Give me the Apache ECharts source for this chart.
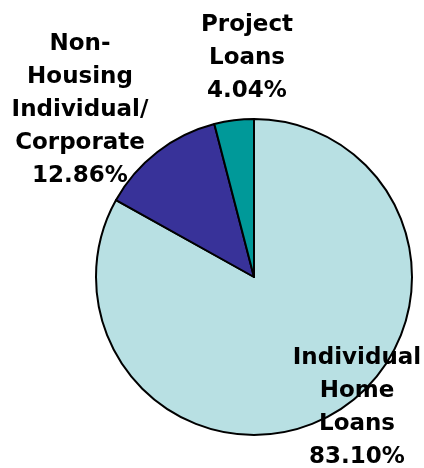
<!DOCTYPE html>
<html>
<head>
<meta charset="utf-8">
<script src="https://cdn.jsdelivr.net/npm/echarts@6/dist/echarts.min.js"></script>
<style>
html,body{margin:0;padding:0;background:#fff;}
#chart{width:424px;height:468px;}
</style>
</head>
<body>
<div id="chart"></div>
<script>
var categories = ["Individual\nHome\nLoans", "Non-\nHousing\nIndividual/\nCorporate", "Project\nLoans"];
var values = [83.10, 12.86, 4.04];
var colors = ["#B8E0E3", "#383299", "#009999"];
var labelCenters = [[357, 408], [80, 110], [247, 58]];

var chart = echarts.init(document.getElementById('chart'), null, {renderer: 'canvas'});
var data = categories.map(function (c, i) {
  return { name: c, value: values[i], itemStyle: { color: colors[i] } };
});
chart.setOption({
  animation: false,
  series: [{
    type: 'pie',
    center: [254, 277],
    radius: 158,
    startAngle: 90,
    clockwise: true,
    data: data,
    itemStyle: { borderColor: '#000', borderWidth: 2 },
    label: {
      show: true,
      position: 'inside',
      rotate: 0,
      formatter: function (p) { return '{t|' + p.name.split('\n').join('}\n{t|') + '}\n{t|' + p.value.toFixed(2) + '%}'; },
      color: '#000',
      align: 'center',
      rich: {
        t: {
          fontFamily: 'DejaVu Sans',
          fontWeight: 'bold',
          fontSize: 23,
          lineHeight: 33,
          color: '#000',
          align: 'center'
        }
      }
    },
    labelLine: { show: false },
    labelLayout: function (params) {
      var c = labelCenters[params.dataIndex];
      return { x: c[0], y: c[1], align: 'center', verticalAlign: 'middle' };
    }
  }]
});
</script>
</body>
</html>
